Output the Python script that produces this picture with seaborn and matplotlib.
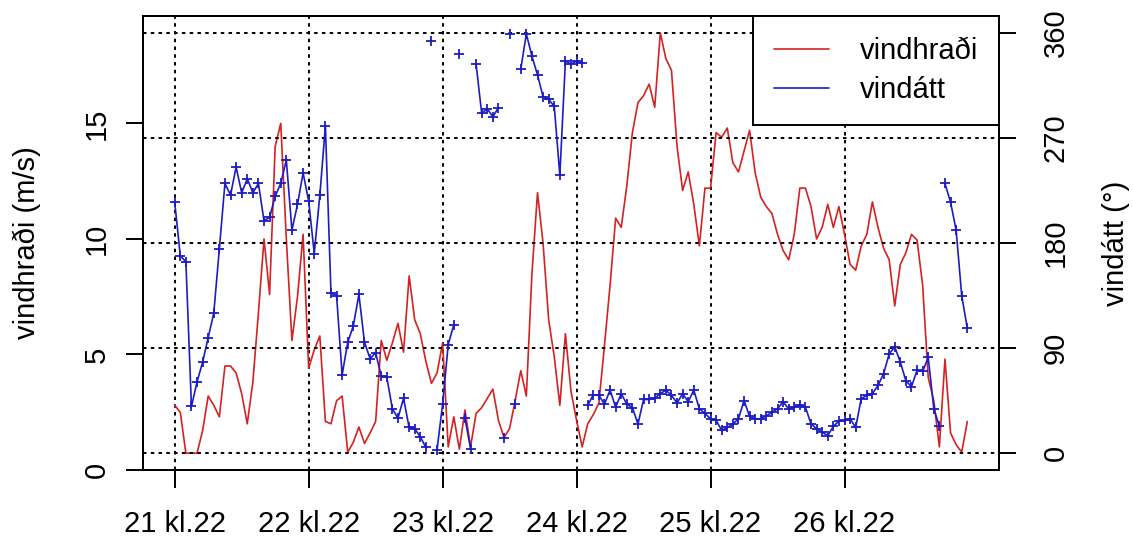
import numpy as np
import pandas as pd
import matplotlib
matplotlib.use("Agg")
import matplotlib.pyplot as plt
from matplotlib.lines import Line2D
import seaborn as sns

# ---------------- data ----------------
hours = list(range(143))  # hourly observations from 21. kl.22
day_labels = ["21 kl.22", "22 kl.22", "23 kl.22", "24 kl.22", "25 kl.22", "26 kl.22"]

speed = [2.8, 2.5, 0.73, 0.73, 0.73, 1.7, 3.2, 2.8, 2.3, 4.5,
         4.5, 4.2, 3.3, 2.0, 3.8, 6.8, 10.0, 7.6, 14.0, 15.0,
         10.0, 5.6, 7.5, 10.2, 4.4, 5.2, 5.8, 2.1, 2.0, 3.0,
         3.2, 0.77, 1.2, 1.86, 1.15, 1.6, 2.1, 5.6, 4.75, 5.5,
         6.35, 5.1, 8.4, 6.5, 5.9, 4.7, 3.75, 4.2, 5.5, 1.0,
         2.3, 0.9, 2.6, 1.0, 2.45, 2.7, 3.1, 3.5, 2.15, 1.4,
         1.8, 3.0, 4.3, 3.2, 8.5, 12.0, 9.8, 6.5, 4.9, 2.8,
         5.9, 3.4, 2.15, 1.0, 2.0, 2.4, 2.9, 5.4, 8.0, 10.9,
         10.5, 12.3, 14.6, 15.9, 16.2, 16.7, 15.7, 18.92, 17.8, 17.3,
         14.0, 12.1, 12.9, 11.5, 9.7, 12.2, 12.2, 14.6, 14.4, 14.8,
         13.3, 12.9, 13.8, 14.7, 12.85, 11.8, 11.4, 11.1, 10.2, 9.5,
         9.1, 10.2, 12.2, 12.2, 11.4, 10.0, 10.5, 11.5, 10.5, 11.4,
         10.2, 8.9, 8.65, 9.7, 10.2, 11.6, 10.5, 9.6, 9.1, 7.1,
         8.9, 9.4, 10.2, 9.95, 8.0, 4.0, 3.0, 1.0, 4.8, 1.6,
         1.1, 0.77, 2.1]

direction = [215, 169, 164, 40, 61, 78, 99, 120, 175, 231,
             221, 245, 223, 235, 223, 231, 199, 202, 220, 231,
             251, 191, 213, 240, 216, 171, 221, 280, 137, 135,
             67, 95, 109, 136, 95, 81, 86, 66, 65, 38,
             30, 47, 22, 21, 14, 5, 353, 3, 42, 93,
             110, 342, 30, 4, 333, 291, 295, 288, 296, 13,
             359, 42, 329, 359, 340, 324, 305, 303, 297, 238,
             336, 333, 336, 334, 41, 50, 49.5, 42, 54, 39.5,
             51, 42, 39, 25, 46, 46, 47, 51, 54, 49.5,
             43, 51, 44, 54, 38, 34, 29.5, 28, 19.5, 22,
             25, 29.5, 45, 31.5, 29.5, 29.5, 32, 35, 38, 44,
             38, 39.5, 41, 39.5, 25, 21, 18, 15, 23, 27.5,
             28, 29.5, 22, 46.7, 49.5, 51, 58, 68, 85, 91,
             78, 62, 57, 71, 70, 82, 38, 23, 231, 215,
             191, 135, 107]

speed_ticks = [0, 5, 10, 15]
direction_ticks = [0, 90, 180, 270, 360]
speed_label = "vindhraði (m/s)"
direction_label = "vindátt (°)"
legend_labels = ["vindhraði", "vindátt"]

# ---------------- style ----------------
sns.set_theme(style="ticks", rc={
    "text.color": "black", "axes.labelcolor": "black",
    "xtick.color": "black", "ytick.color": "black",
    "axes.edgecolor": "black",
})
plt.rcParams["font.family"] = ["Liberation Sans", "DejaVu Sans"]

RED = "#d42222"
BLUE = "#1c1cc4"
FS = 21
LW = 1.2
FRAME_LW = 1.4
DOTS = (0, (1.8, 2.2))

W, H = 1133, 546
L, R, B, T = 143, 999, 470, 16

fig = plt.figure(figsize=(W / 100, H / 100), dpi=100)
ax = fig.add_axes([L / W, 1 - B / H, (R - L) / W, (B - T) / H])

# wind speed
df_speed = pd.DataFrame({"t": hours, "v": speed})
sns.lineplot(data=df_speed, x="t", y="v", color=RED, linewidth=LW,
             ax=ax, legend=False)

# wind direction: break the line where it wraps round north
d = np.asarray(direction, dtype=float)
seg = np.concatenate([[0], np.cumsum(np.abs(np.diff(d)) > 180)])
df_dir = pd.DataFrame({"t": hours, "d": direction, "seg": seg})
ax2 = ax.twinx()
sns.lineplot(data=df_dir, x="t", y="d", units="seg", estimator=None,
             color=BLUE, linewidth=LW, marker="+", markersize=7,
             markeredgewidth=1.3, markeredgecolor=BLUE,
             ax=ax2, legend=False)

# limits (R style 4 % padding)
span = hours[-1] - hours[0]
ax.set_xlim(hours[0] - 0.04 * span, hours[-1] + 0.04 * span)
smin, smax = min(speed), max(speed)
sr = smax - smin
ax.set_ylim(smin - 0.04 * sr, smax + 0.04 * sr)
dr = direction_ticks[-1] - direction_ticks[0]
ax2.set_ylim(direction_ticks[0] - 0.04 * dr, direction_ticks[-1] + 0.04 * dr)

# ticks
ax.set_xticks(hours[::24])
ax.set_xticklabels(day_labels)
ax.set_yticks(speed_ticks)
ax.set_yticklabels([str(v) for v in speed_ticks])
ax2.set_yticks(direction_ticks)
ax2.set_yticklabels([str(v) for v in direction_ticks])

ax.tick_params(axis="x", length=13, width=FRAME_LW, pad=16, labelsize=FS, direction="out")
ax.tick_params(axis="y", length=12, width=FRAME_LW, pad=21, labelsize=FS, direction="out", labelrotation=90)
ax2.tick_params(axis="y", length=12, width=FRAME_LW, pad=29, labelsize=FS, direction="out", labelrotation=90)
plt.setp(ax.get_yticklabels(), ha="center", va="center")
plt.setp(ax2.get_yticklabels(), ha="center", va="center")

# grid
ax.grid(False)
ax2.grid(False)
ax.xaxis.grid(True, color="black", linestyle=DOTS, linewidth=FRAME_LW)
ax2.yaxis.grid(True, color="black", linestyle=DOTS, linewidth=FRAME_LW)

# axis labels
ax.set_xlabel("")
ax.set_ylabel(speed_label, fontsize=FS)
ax.yaxis.set_label_coords((27 - L) / (R - L), 0.5)
ax.yaxis.label.set_va("center")
ax2.set_ylabel(direction_label, fontsize=FS)
ax2.yaxis.set_label_coords((1116 - L) / (R - L), 0.5)
ax2.yaxis.label.set_va("center")

for a in (ax, ax2):
    for sp in a.spines.values():
        sp.set_color("black")
        sp.set_linewidth(FRAME_LW)

# legend
handles = [Line2D([], [], color=RED, lw=LW), Line2D([], [], color=BLUE, lw=LW)]
leg = ax2.legend(handles, legend_labels, loc="upper right", fontsize=FS,
                 frameon=True, fancybox=False, edgecolor="black", framealpha=1,
                 borderaxespad=0, borderpad=0.72, labelspacing=0.38,
                 handlelength=1.9, handletextpad=1.05)
leg.get_frame().set_linewidth(FRAME_LW)

fig.savefig("out.png", dpi=100)
